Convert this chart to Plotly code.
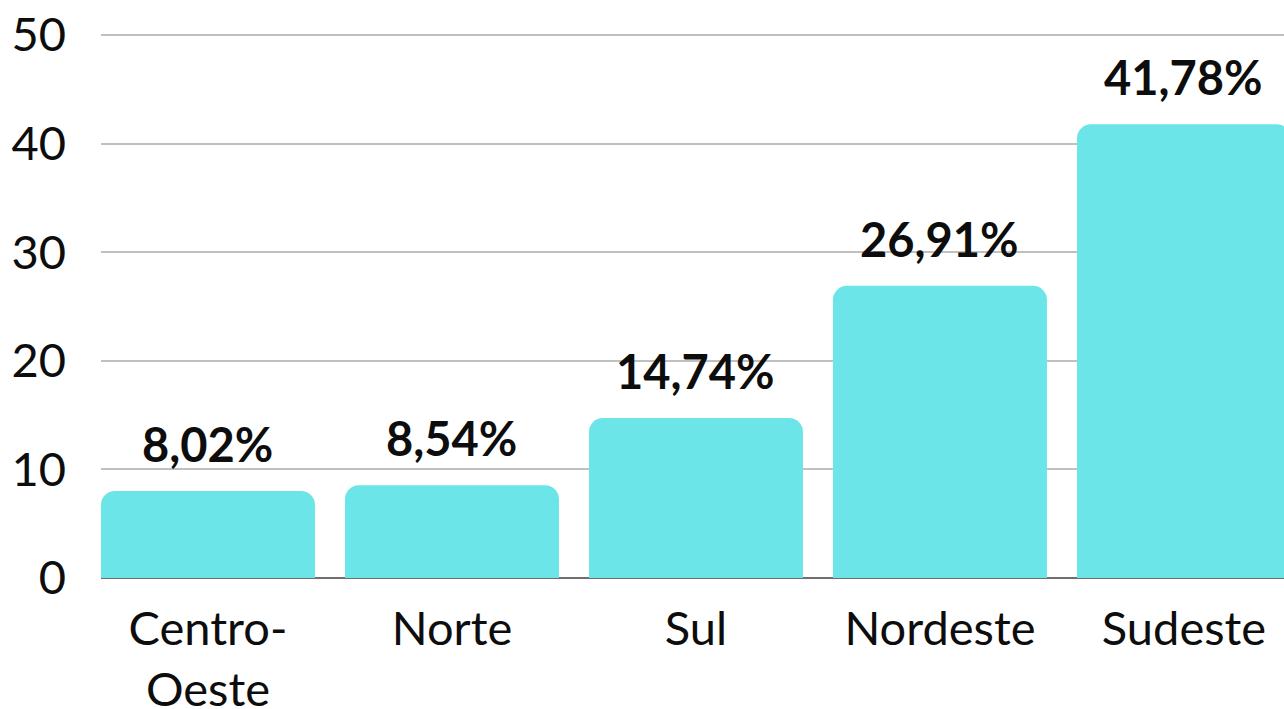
# -*- coding: utf-8 -*-
import plotly.graph_objects as go

regioes = ["Centro-<br>Oeste", "Norte", "Sul", "Nordeste", "Sudeste"]
percentuais = [8.02, 8.54, 14.74, 26.91, 41.78]
rotulos = ["8,02%", "8,54%", "14,74%", "26,91%", "41,78%"]

FONT = "Lato, 'Open Sans', sans-serif"
BAR_COLOR = "#6BE5E8"
TEXT_COLOR = "#0D0D0D"
SIZE = 47

fig = go.Figure()
fig.add_bar(x=list(range(len(regioes))),
            y=percentuais,
            width=0.877,
            marker={"color": BAR_COLOR,
                    "cornerradius": 14,
                    "line": {"width": 0}},
            hoverinfo="skip")

# value labels above the bars
for i, (val, txt) in enumerate(zip(percentuais, rotulos)):
    fig.add_annotation(x=i, y=val,
                       text=f"<b>{txt}</b>",
                       showarrow=False,
                       yanchor="bottom",
                       yshift=17,
                       font={"family": FONT, "size": SIZE, "color": TEXT_COLOR})

fig.update_layout(width=1284, height=709,
                  margin={"l": 101, "r": 0, "t": 32, "b": 131},
                  paper_bgcolor="white",
                  plot_bgcolor="white",
                  showlegend=False,
                  font={"family": FONT, "size": SIZE, "color": TEXT_COLOR})

fig.update_xaxes(range=[-0.4385, 4.41],
                 tickmode="array",
                 tickvals=list(range(len(regioes))),
                 ticktext=regioes,
                 automargin=False,
                 showgrid=False,
                 showline=False,
                 zeroline=False,
                 ticks="",
                 ticklabelstandoff=19,
                 tickfont={"family": FONT, "size": SIZE, "color": TEXT_COLOR})

fig.update_yaxes(range=[0, 50.28],
                 tickmode="array",
                 tickvals=[0, 10, 20, 30, 40, 50],
                 automargin=False,
                 showgrid=True,
                 gridcolor="#C0C0C0",
                 gridwidth=2,
                 zeroline=True,
                 zerolinecolor="#6E6E6E",
                 zerolinewidth=2,
                 showline=False,
                 ticks="",
                 ticklabelstandoff=34,
                 tickfont={"family": FONT, "size": SIZE, "color": TEXT_COLOR})

# page margin off so the figure sits at the window origin
fig.write_html("out.html",
               config={"displayModeBar": False},
               post_script="document.body.style.margin='0';")
